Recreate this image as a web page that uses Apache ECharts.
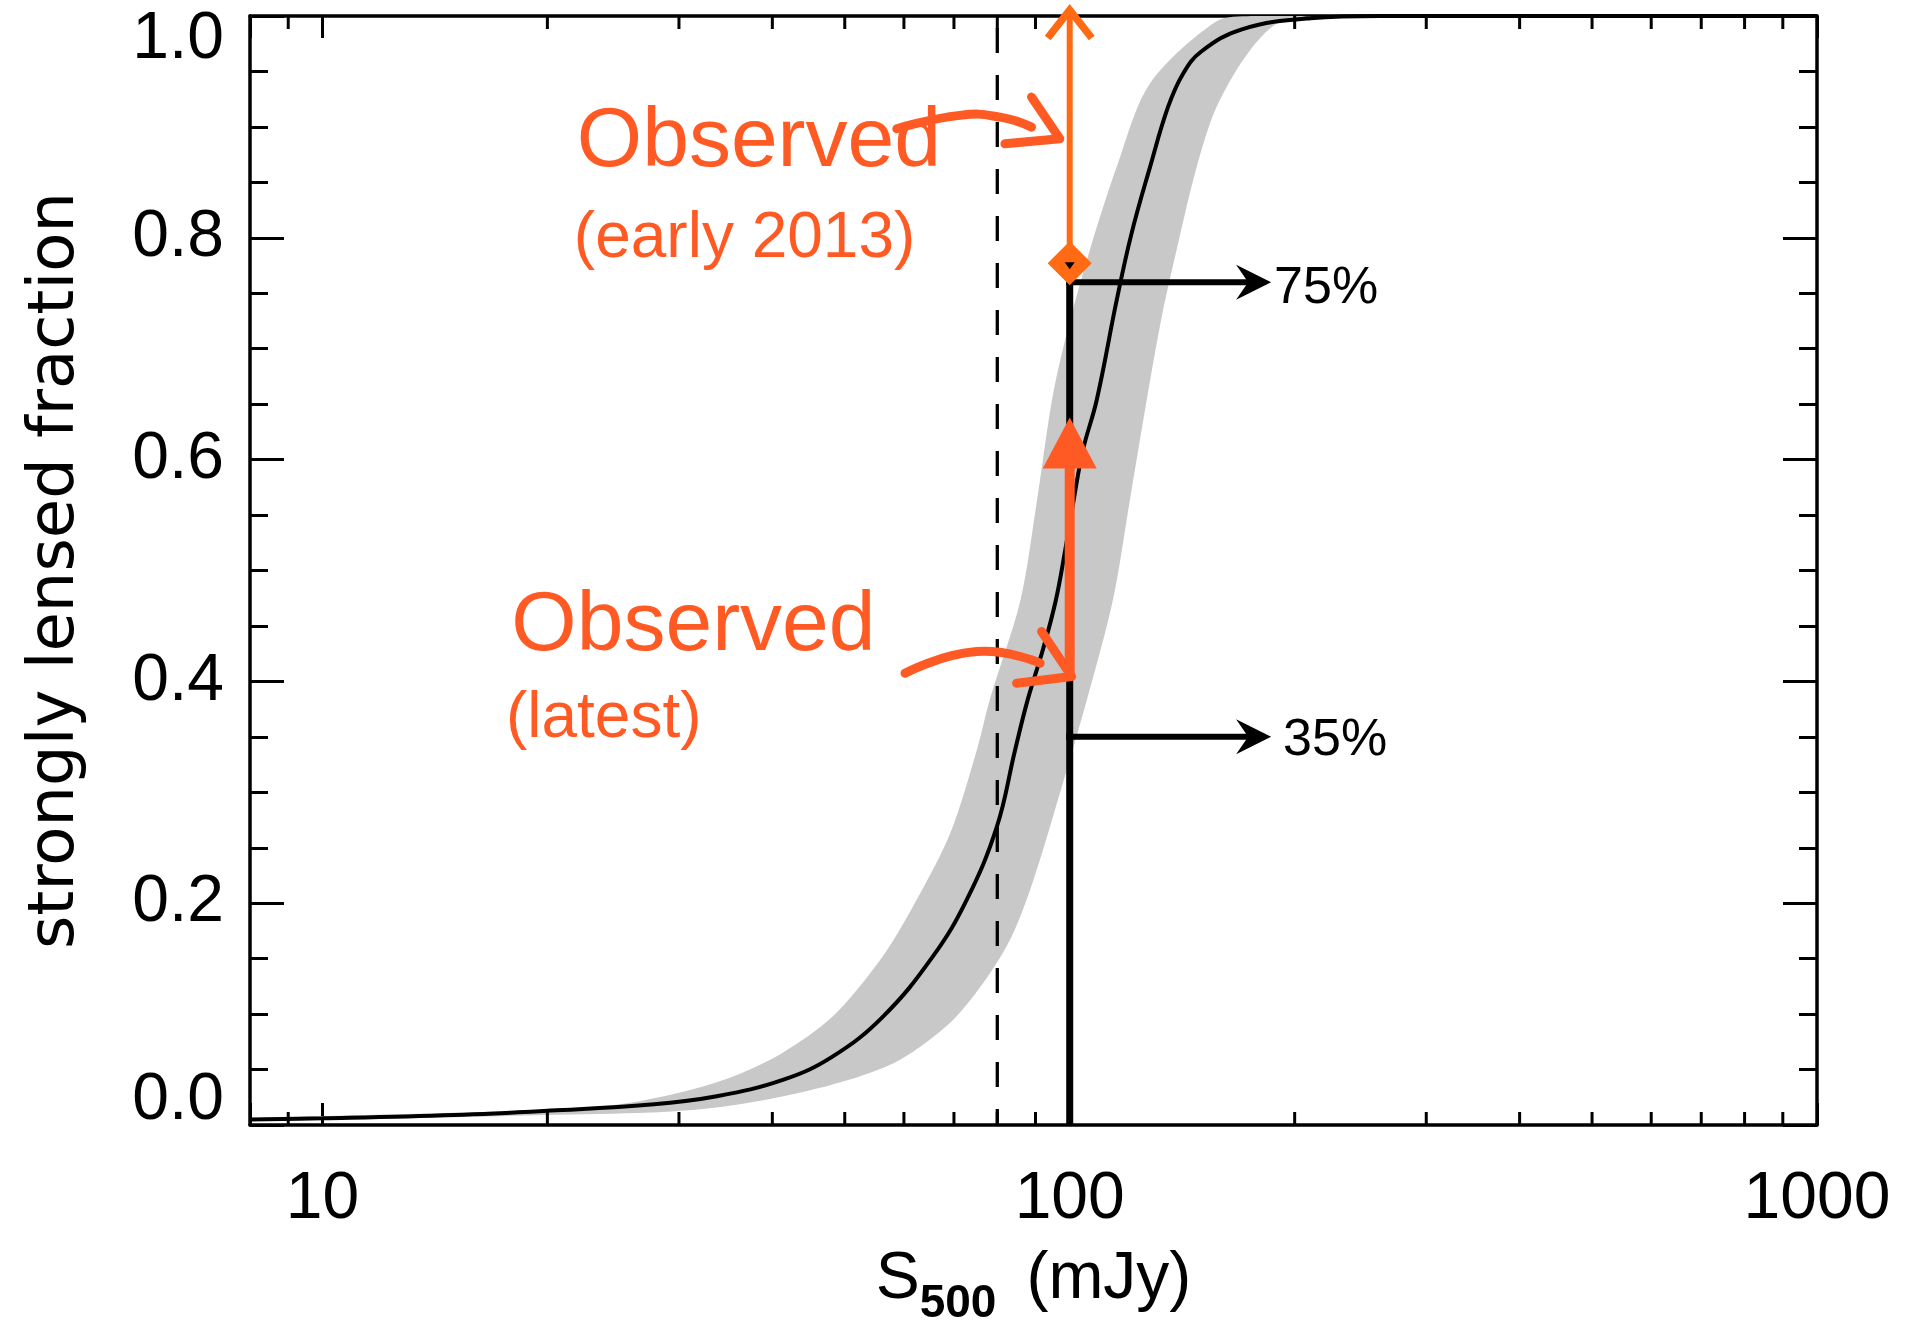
<!DOCTYPE html>
<html>
<head>
<meta charset="utf-8">
<script src="https://cdn.jsdelivr.net/npm/echarts@6/dist/echarts.min.js"></script>
<style>html,body{margin:0;padding:0;background:#fff}#chart{width:1909px;height:1320px}</style>
</head>
<body>
<div id="chart"></div>
<script>
// ---------------- data ----------------
const xTickValues = [10, 100, 1000];
const xTickLabels = ['10', '100', '1000'];
const xMinorTicks = [9, 20, 30, 40, 50, 60, 70, 80, 90, 200, 300, 400, 500, 600, 700, 800, 900];
const yTickLabels = ['0.0', '0.2', '0.4', '0.6', '0.8', '1.0'];

// model: strongly lensed fraction vs S500 (mJy)
const modelFlux = [8, 10, 15, 20.2, 27.5, 33.7, 41.4, 48.2, 56.3, 65.6, 72.8, 79.9, 84.5, 87.9, 92.1, 95.8, 98.6, 101.2, 104.2, 108.7, 115.6, 121.0, 128.1, 135.4, 141.8, 150, 170, 210, 260, 1000];
const modelFrac = [0.005, 0.006, 0.009, 0.013, 0.0184, 0.0259, 0.0409, 0.0619, 0.098, 0.152, 0.203, 0.269, 0.338, 0.384, 0.429, 0.473, 0.518, 0.563, 0.609, 0.654, 0.744, 0.804, 0.864, 0.918, 0.948, 0.968, 0.988, 0.998, 1.0, 1.0];

// uncertainty band: high-fraction edge and low-fraction edge
const bandUpperFlux = [8, 15, 20, 24.8, 30.4, 35.5, 41.3, 48.2, 56.2, 62.4, 69.2, 75.1, 78.2, 85.9, 90.4, 94.7, 99.1, 106.4, 115.6, 128.0, 157.0, 175, 240];
const bandUpperFrac = [0.006, 0.011, 0.014, 0.0184, 0.030, 0.0439, 0.0652, 0.098, 0.152, 0.203, 0.263, 0.338, 0.384, 0.473, 0.563, 0.654, 0.714, 0.789, 0.864, 0.939, 0.995, 1.0, 1.0];
const bandLowerFlux = [8, 15, 20, 27.5, 33.7, 41.4, 50.8, 59.3, 69.2, 76.6, 83.2, 88.5, 94.1, 105.4, 114.3, 120.4, 126.8, 132.8, 139.0, 147.9, 157.2, 174.2, 192.9, 240];
const bandLowerFrac = [0.004, 0.007, 0.009, 0.0112, 0.0157, 0.0259, 0.041, 0.0589, 0.0923, 0.128, 0.167, 0.212, 0.269, 0.383, 0.474, 0.564, 0.654, 0.729, 0.789, 0.864, 0.918, 0.969, 0.996, 1.0];

const limitFlux = 80;            // dashed vertical line
const thresholdFlux = 100;       // solid vertical line / observed points
const fractionLevels = [0.76, 0.35];
const fractionLabels = ['75%', '35%'];
const fractionArrowTipFlux = 186;

const earlyObsFlux = 100, earlyObsLow = 0.777, earlyObsHigh = 1.0;
const latestObsFlux = 100, latestObsLow = 0.404, latestObsHigh = 0.638;

const noteTexts = ['Observed', '(early 2013)', 'Observed', '(latest)'];
const noteFlux = [21.9, 21.7, 17.9, 17.6];
const noteFrac = [0.8855, 0.7988, 0.4495, 0.3655];

const handEarlyFlux = [58.7, 71.3, 80.7, 88.9];
const handEarlyFrac = [0.8983, 0.9104, 0.9088, 0.8998];
const handEarlyHeadFlux = [81.9, 97.0, 88.9];
const handEarlyHeadFrac = [0.8848, 0.8893, 0.9269];
const handLatestFlux = [60.2, 75.1, 91.3];
const handLatestFrac = [0.4073, 0.4269, 0.4164];
const handLatestHeadFlux = [84.9, 100.6, 91.7];
const handLatestHeadFrac = [0.3983, 0.4044, 0.445];

// ---------------- styling ----------------
const SANS = '"Liberation Sans", Arial, Helvetica, sans-serif';
const ORANGE_BAR = '#ff6a12';
const ORANGE = '#ff5a24';
const AXIS = { color: '#000', width: 3.5 };

function toPts(api, xs, ys) { return xs.map((x, i) => api.coord([x, ys[i]])); }

const chart = echarts.init(document.getElementById('chart'), null, { renderer: 'canvas' });

const xBase = {
  type: 'log', logBase: 10, min: 8, max: 1000,
  axisLine: { show: true, onZero: false, lineStyle: AXIS },
  axisTick: { show: true, inside: true, length: 22, lineStyle: { color: '#000', width: 3 } },
  minorTick: { show: false }, splitLine: { show: false }, minorSplitLine: { show: false }
};
const yBase = {
  type: 'value', min: 0, max: 1, interval: 0.2,
  axisLine: { show: true, onZero: false, lineStyle: AXIS },
  axisTick: { show: true, inside: true, length: 34, lineStyle: { color: '#000', width: 3 } },
  minorTick: { show: true, splitNumber: 4, length: 18, lineStyle: { color: '#000', width: 3 } },
  splitLine: { show: false }, minorSplitLine: { show: false }
};

const option = {
  backgroundColor: '#fff',
  animation: false,
  textStyle: { fontFamily: SANS, color: '#000' },
  grid: { left: 250, right: 92, top: 16, bottom: 195, containLabel: false, outerBoundsMode: 'none' },
  xAxis: [
    Object.assign({}, xBase, {
      position: 'bottom',
      axisLabel: {
        show: true, margin: 51, color: '#000', fontSize: 66, fontFamily: SANS, lineHeight: 48,
        formatter: function (v) {
          const i = xTickValues.findIndex(t => Math.abs(t - v) < 1e-6 * t);
          return i >= 0 ? xTickLabels[i] : '';
        }
      },
      name: '{s|S}{sub|500}{gap| }{n|(mJy)}',
      nameLocation: 'middle', nameGap: 122, nameMoveOverlap: false,
      nameTextStyle: {
        color: '#000',
        rich: {
          s: { fontSize: 66, lineHeight: 66, verticalAlign: 'top', fontFamily: SANS, color: '#000' },
          sub: { fontSize: 46, fontWeight: 'bold', lineHeight: 48, verticalAlign: 'bottom', fontFamily: SANS, color: '#000' },
          gap: { fontSize: 66, lineHeight: 80, verticalAlign: 'top', width: 30, fontFamily: SANS },
          n: { fontSize: 66, lineHeight: 66, verticalAlign: 'top', fontFamily: SANS, color: '#000' }
        }
      }
    }),
    Object.assign({}, xBase, { position: 'top', axisLabel: { show: false } })
  ],
  yAxis: [
    Object.assign({}, yBase, {
      position: 'left',
      axisLabel: {
        show: true, margin: 26, color: '#000', fontSize: 66, fontFamily: SANS, lineHeight: 48,
        verticalAlignMinLabel: 'bottom', verticalAlignMaxLabel: 'top',
        formatter: function (v) { return yTickLabels[Math.round(v / 0.2)]; }
      },
      name: 'strongly lensed fraction', nameLocation: 'middle', nameGap: 162, nameRotate: 90,
      nameMoveOverlap: false,
      nameTextStyle: { fontSize: 64, fontFamily: '"DejaVu Sans", sans-serif', color: '#000' }
    }),
    Object.assign({}, yBase, { position: 'right', axisLabel: { show: false } })
  ],
  series: [
    { // uncertainty band
      name: 'band', type: 'custom', data: [[100, 0.5]], clip: true, silent: true, z: 1,
      renderItem: function (p, api) {
        const up = toPts(api, bandUpperFlux, bandUpperFrac);
        const lo = toPts(api, bandLowerFlux, bandLowerFrac).reverse();
        return { type: 'polygon', shape: { points: up.concat(lo), smooth: 0.3 }, style: { fill: '#c8c8c8' } };
      }
    },
    { // model curve
      name: 'model', type: 'line', data: modelFlux.map((x, i) => [x, modelFrac[i]]),
      symbol: 'none', showSymbol: false, smooth: 0.4, clip: true, silent: true, z: 3,
      lineStyle: { color: '#000', width: 4 }
    },
    { // dashed limit
      name: 'limit', type: 'line', data: [[limitFlux, 1], [limitFlux, 0]], symbol: 'none', silent: true, z: 3,
      lineStyle: { color: '#000', width: 3.3, type: [25, 22], dashOffset: 35 }
    },
    { // solid vertical threshold line
      name: 'threshold', type: 'line', data: [[thresholdFlux, 0], [thresholdFlux, fractionLevels[0]]],
      symbol: 'none', silent: true, z: 4, lineStyle: { color: '#000', width: 7 }
    },
    { // horizontal arrows with percentage labels
      name: 'fractions', type: 'custom', data: fractionLevels.map(f => [fractionArrowTipFlux, f]),
      clip: false, silent: true, z: 4,
      renderItem: function (p, api) {
        const i = p.dataIndex;
        const f = fractionLevels[i];
        const a = api.coord([thresholdFlux, f]);
        const b = api.coord([fractionArrowTipFlux, f]);
        const L = 35, H = 17.5, N = 23;
        const gap = [3, 12][i];
        const dy = [6, 4][i];
        return {
          type: 'group', children: [
            { type: 'line', shape: { x1: a[0] - 3.5, y1: a[1], x2: b[0] - N, y2: b[1] }, style: { stroke: '#000', lineWidth: 6 } },
            { type: 'polygon', shape: { points: [[b[0], b[1]], [b[0] - L, b[1] - H], [b[0] - N, b[1]], [b[0] - L, b[1] + H]] }, style: { fill: '#000' } },
            { type: 'text', x: b[0] + gap, y: b[1] + dy, style: { text: fractionLabels[i], fill: '#000', fontSize: 52, fontFamily: SANS, align: 'left', verticalAlign: 'middle' } }
          ]
        };
      }
    },
    { // early 2013 observed lower limit
      name: 'earlyObs', type: 'custom', data: [[earlyObsFlux, earlyObsLow]], clip: false, silent: true, z: 6,
      renderItem: function (p, api) {
        const b = api.coord([earlyObsFlux, earlyObsLow]);
        const t = api.coord([earlyObsFlux, earlyObsHigh]);
        const tipY = t[1] - 6;
        const d = 22;
        return {
          type: 'group', children: [
            { type: 'line', shape: { x1: b[0], y1: b[1], x2: t[0], y2: tipY + 3 }, style: { stroke: ORANGE_BAR, lineWidth: 6 } },
            { type: 'polyline', shape: { points: [[t[0] - 22, tipY + 28], [t[0], tipY], [t[0] + 22, tipY + 28]] }, style: { stroke: ORANGE_BAR, lineWidth: 7.5, fill: null, lineJoin: 'miter' } },
            { type: 'polygon', shape: { points: [[b[0], b[1] - d], [b[0] + d, b[1]], [b[0], b[1] + d], [b[0] - d, b[1]]] }, style: { fill: ORANGE_BAR } },
            { type: 'polygon', shape: { points: [[b[0] - 5, b[1] - 1], [b[0] + 5, b[1] - 1], [b[0], b[1] + 6]] }, style: { fill: '#000' } }
          ]
        };
      }
    },
    { // latest observed arrow
      name: 'latestObs', type: 'custom', data: [[latestObsFlux, latestObsLow]], clip: false, silent: true, z: 7,
      renderItem: function (p, api) {
        const b = api.coord([latestObsFlux, latestObsLow]);
        const t = api.coord([latestObsFlux, latestObsHigh]);
        const HL = 51, HW = 27;
        return {
          type: 'group', children: [
            { type: 'line', shape: { x1: b[0], y1: b[1], x2: t[0], y2: t[1] + HL - 2 }, style: { stroke: ORANGE, lineWidth: 10 } },
            { type: 'polygon', shape: { points: [[t[0], t[1]], [t[0] + HW, t[1] + HL], [t[0] - HW, t[1] + HL]] }, style: { fill: ORANGE } }
          ]
        };
      }
    },
    { // hand-drawn pointer arrows
      name: 'handArrows', type: 'custom', data: [[80, 0.5]], clip: false, silent: true, z: 8,
      renderItem: function (p, api) {
        const st = { stroke: ORANGE, lineWidth: 9, fill: null, lineCap: 'round', lineJoin: 'round' };
        return {
          type: 'group', children: [
            { type: 'polyline', shape: { points: toPts(api, handEarlyFlux, handEarlyFrac), smooth: 0.5 }, style: st },
            { type: 'polyline', shape: { points: toPts(api, handEarlyHeadFlux, handEarlyHeadFrac) }, style: st },
            { type: 'polyline', shape: { points: toPts(api, handLatestFlux, handLatestFrac), smooth: 0.5 }, style: st },
            { type: 'polyline', shape: { points: toPts(api, handLatestHeadFlux, handLatestHeadFrac) }, style: st }
          ]
        };
      }
    },
    { // handwritten notes
      name: 'notes', type: 'custom', data: noteFlux.map((x, i) => [x, noteFrac[i]]), clip: false, silent: true, z: 8,
      renderItem: function (p, api) {
        const i = p.dataIndex;
        const c = api.coord([noteFlux[i], noteFrac[i]]);
        const size = [84, 64, 84, 64][i];
        return { type: 'text', x: c[0], y: c[1], style: { text: noteTexts[i], fill: ORANGE, fontSize: size, fontFamily: SANS, align: 'left', verticalAlign: 'middle' } };
      }
    },
    { // minor ticks on the log x axes (2..9 x 10^n), bottom and top
      name: 'xMinor', type: 'custom', data: xMinorTicks.map(v => [v, 0]), clip: false, silent: true, z: 9,
      renderItem: function (p, api) {
        const v = xMinorTicks[p.dataIndex];
        const b = api.coord([v, 0]);
        const t = api.coord([v, 1]);
        const s = { stroke: '#000', lineWidth: 3 };
        return {
          type: 'group', children: [
            { type: 'line', shape: { x1: b[0], y1: b[1], x2: b[0], y2: b[1] - 13 }, style: s },
            { type: 'line', shape: { x1: t[0], y1: t[1], x2: t[0], y2: t[1] + 13 }, style: s }
          ]
        };
      }
    }
  ]
};
chart.setOption(option);
</script>
</body>
</html>
